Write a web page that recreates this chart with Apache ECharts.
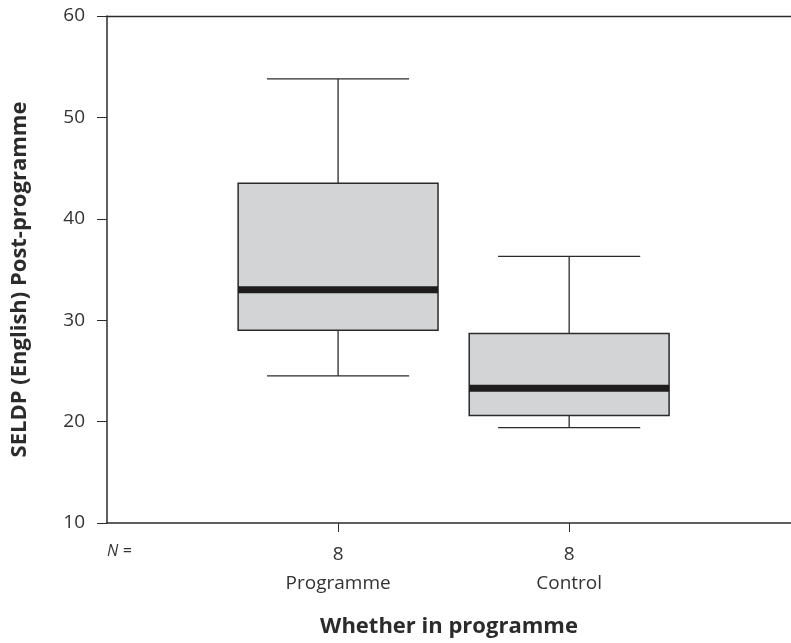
<!DOCTYPE html>
<html>
<head>
<meta charset="utf-8">
<script src="https://cdn.jsdelivr.net/npm/echarts@6/dist/echarts.min.js"></script>
<style>
	html, body { margin: 0; padding: 0; background: #fff; }
	#chart { width: 791px; height: 643px; }
</style>
</head>
<body>
<div id="chart"></div>
<script>
// groups and their position on the x scale
var categories = ['Programme', 'Control'];
var groupX = [1, 2];
var nCounts = [8, 8];
// min, Q1, median, Q3, max
var lows = [24.5, 19.4];
var q1s = [29.0, 20.6];
var medians = [33.0, 23.3];
var q3s = [43.5, 28.7];
var highs = [53.8, 36.3];
var yTicks = [10, 20, 30, 40, 50, 60];

var boxData = groupX.map(function(x, i){
	return [x, lows[i], q1s[i], medians[i], q3s[i], highs[i]];
});

var font = '"Open Sans", Lato, sans-serif';
var ink = '#2b2b2b';

function renderBox(params, api){
	var x = api.value(0);
	var boxW = api.size([0.865, 0])[0];
	var capW = api.size([0.615, 0])[0];
	var pLow = api.coord([x, api.value(1)]);
	var pQ1 = api.coord([x, api.value(2)]);
	var pMed = api.coord([x, api.value(3)]);
	var pQ3 = api.coord([x, api.value(4)]);
	var pHigh = api.coord([x, api.value(5)]);
	var cx = pLow[0];
	var line = { stroke: ink, lineWidth: 1.3 };
	return {
		type: 'group',
		children: [
			{ type: 'line', shape: { x1: cx, y1: pHigh[1], x2: cx, y2: pQ3[1] }, style: line },
			{ type: 'line', shape: { x1: cx, y1: pQ1[1], x2: cx, y2: pLow[1] }, style: line },
			{ type: 'line', shape: { x1: cx - capW / 2, y1: pHigh[1], x2: cx + capW / 2, y2: pHigh[1] }, style: line },
			{ type: 'line', shape: { x1: cx - capW / 2, y1: pLow[1], x2: cx + capW / 2, y2: pLow[1] }, style: line },
			{ type: 'rect', shape: { x: cx - boxW / 2, y: pQ3[1], width: boxW, height: pQ1[1] - pQ3[1] },
				style: { fill: '#d3d4d6', stroke: ink, lineWidth: 1.5 } },
			{ type: 'line', shape: { x1: cx - boxW / 2, y1: pMed[1], x2: cx + boxW / 2, y2: pMed[1] },
				style: { stroke: '#1e1c1d', lineWidth: 7 } }
		]
	};
}

var chart = echarts.init(document.getElementById('chart'));
chart.setOption({
	animation: false,
	backgroundColor: '#fff',
	grid: { left: 107, right: 0, top: 16, bottom: 120, outerBoundsMode: 'none' },
	xAxis: [{
		type: 'value',
		min: 0,
		max: 2.96,
		interval: 1,
		splitLine: { show: false },
		axisLine: { show: true, onZero: false, lineStyle: { color: ink, width: 1.5 } },
		axisTick: { show: true, customValues: groupX, length: 9, lineStyle: { color: ink } },
		axisLabel: {
			customValues: groupX,
			fontFamily: font,
			fontSize: 19,
			color: '#333',
			lineHeight: 29,
			margin: 17,
			formatter: function(v){
				var i = groupX.indexOf(v);
				return i < 0 ? '' : nCounts[i] + '\n' + categories[i];
			}
		},
		name: 'Whether in programme',
		nameLocation: 'middle',
		nameGap: 93,
		nameTextStyle: { fontFamily: font, fontSize: 22, fontWeight: 'bold', color: '#2b2b2b' }
	}, {
		type: 'value',
		position: 'top',
		min: 0,
		max: 2.96,
		splitLine: { show: false },
		axisLine: { show: true, onZero: false, lineStyle: { color: ink, width: 1.3 } },
		axisTick: { show: false },
		axisLabel: { show: false }
	}],
	yAxis: {
		type: 'value',
		min: 10,
		max: 60,
		interval: 10,
		splitLine: { show: false },
		axisLine: { show: true, onZero: false, lineStyle: { color: ink, width: 1.5 } },
		axisTick: { show: true, inside: false, length: 10, lineStyle: { color: ink } },
		axisLabel: {
			fontFamily: font,
			fontSize: 19,
			color: '#333',
			margin: 22,
			formatter: function(v){ return yTicks.indexOf(v) >= 0 ? String(v) : ''; }
		},
		name: 'SELDP (English) Post-programme',
		nameLocation: 'middle',
		nameGap: 76,
		nameTextStyle: { fontFamily: font, fontSize: 22, fontWeight: 'bold', color: '#2b2b2b', padding: [0, 20, 0, 0] }
	},
	graphic: [{
		type: 'text',
		left: 107,
		top: 543,
		style: { text: 'N =', fontFamily: font, fontSize: 16, fontStyle: 'italic', fill: '#333' }
	}],
	series: [{
		type: 'custom',
		xAxisIndex: 0,
		renderItem: renderBox,
		encode: { x: 0, y: [1, 2, 3, 4, 5] },
		data: boxData
	}]
});
</script>
</body>
</html>
